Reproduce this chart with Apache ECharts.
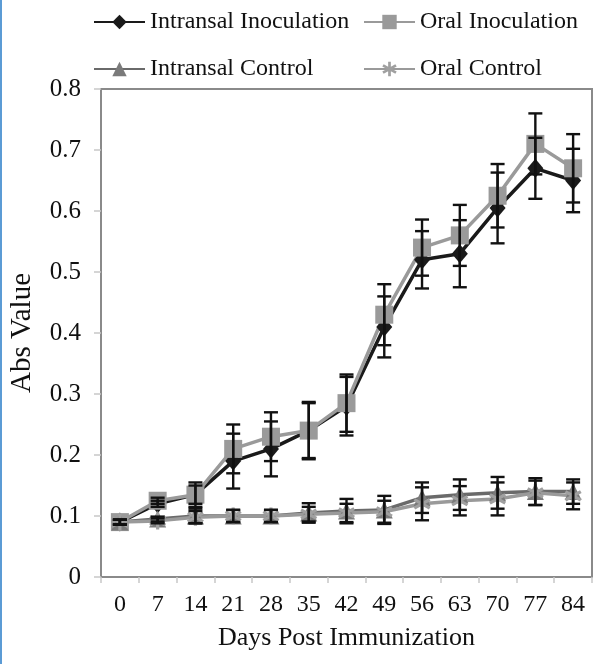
<!DOCTYPE html>
<html>
<head>
<meta charset="utf-8">
<script src="https://cdn.jsdelivr.net/npm/echarts@6/dist/echarts.min.js"></script>
<style>
html,body{margin:0;padding:0;background:#fff;}
#chart{width:595px;height:664px;}
</style>
</head>
<body>
<div id="chart"></div>
<script>
var days = ['0','7','14','21','28','35','42','49','56','63','70','77','84'];
var intransalInoc = [0.09,0.12,0.135,0.19,0.21,0.24,0.28,0.41,0.52,0.53,0.605,0.67,0.65];
var intransalInocErr = [0.004,0.005,0.015,0.045,0.045,0.047,0.048,0.05,0.047,0.055,0.058,0.05,0.052];
var oralInoc = [0.09,0.125,0.135,0.21,0.23,0.24,0.285,0.43,0.54,0.56,0.625,0.71,0.67];
var oralInocErr = [0.004,0.005,0.02,0.04,0.04,0.045,0.047,0.05,0.046,0.05,0.052,0.05,0.056];
var intransalCtrl = [0.09,0.095,0.10,0.10,0.10,0.105,0.108,0.11,0.13,0.135,0.138,0.14,0.14];
var intransalCtrlErr = [0.004,0.004,0.012,0.01,0.01,0.016,0.02,0.023,0.025,0.025,0.026,0.022,0.02];
var oralCtrl = [0.09,0.092,0.098,0.10,0.10,0.103,0.105,0.107,0.12,0.125,0.128,0.138,0.133];
var oralCtrlErr = [0.004,0.004,0.01,0.01,0.01,0.012,0.015,0.018,0.027,0.024,0.027,0.02,0.022];
var yTicks = [0,0.1,0.2,0.3,0.4,0.5,0.6,0.7,0.8];

var FONT = 'Liberation Serif';
var asterisk = 'path://M8.2,0L11.8,0L11.8,20L8.2,20Z M2.24,3.44L19.56,13.44L17.76,16.56L0.44,6.56Z M17.76,3.44L19.56,6.56L2.24,16.56L0.44,13.44Z';

function errData(vals, errs){
  return vals.map(function(v,i){ return [i, v - errs[i], v + errs[i]]; });
}
function errSeries(vals, errs){
  return {
    type: 'custom',
    z: 5,
    silent: true,
    data: errData(vals, errs),
    encode: {x: 0, y: [1, 2]},
    renderItem: function(params, api){
      var x = api.value(0);
      var lo = api.coord([x, api.value(1)]);
      var hi = api.coord([x, api.value(2)]);
      var hw = 7;
      var st = {stroke: '#111', lineWidth: 2.4};
      return {
        type: 'group',
        children: [
          {type: 'line', shape: {x1: lo[0], y1: lo[1], x2: hi[0], y2: hi[1]}, style: st},
          {type: 'line', shape: {x1: hi[0]-hw, y1: hi[1], x2: hi[0]+hw, y2: hi[1]}, style: st},
          {type: 'line', shape: {x1: lo[0]-hw, y1: lo[1], x2: lo[0]+hw, y2: lo[1]}, style: st}
        ]
      };
    }
  };
}
function legendAt(name, left, top){
  return {
    data: [name], left: left, top: top, padding: 0,
    itemWidth: 51, itemHeight: 18, itemGap: 0,
    selectedMode: false,
    textStyle: {fontFamily: FONT, fontSize: 24, color: '#111', lineHeight: 28}
  };
}

var chart = echarts.init(document.getElementById('chart'), null, {renderer: 'canvas'});
chart.setOption({
  backgroundColor: '#ffffff',
  animation: false,
  graphic: [{type: 'rect', left: 0, top: 0, shape: {width: 2, height: 664}, style: {fill: '#5b9bd5'}}],
  legend: [
    legendAt('Intransal Inoculation', 93, 8),
    legendAt('Oral Inoculation', 363, 8),
    legendAt('Intransal Control', 93, 55),
    legendAt('Oral Control', 363, 55)
  ],
  grid: {left: 97, right: 3, top: 89, bottom: 87, show: true, borderColor: '#8a8a8a', borderWidth: 2, backgroundColor: '#fff'},
  xAxis: {
    type: 'category',
    data: days,
    boundaryGap: true,
    name: 'Days Post Immunization',
    nameLocation: 'middle',
    nameGap: 48,
    nameTextStyle: {fontFamily: FONT, fontSize: 26, color: '#111'},
    axisLine: {show: true, lineStyle: {color: '#8a8a8a', width: 2}},
    axisTick: {show: true, length: 6, lineStyle: {color: '#c8c8c8', width: 1.5}},
    axisLabel: {fontFamily: FONT, fontSize: 24, color: '#111', margin: 16}
  },
  yAxis: {
    type: 'value',
    min: 0, max: 0.8, interval: 0.1,
    name: 'Abs Value',
    nameLocation: 'middle',
    nameGap: 64,
    nameTextStyle: {fontFamily: FONT, fontSize: 29, color: '#111'},
    splitLine: {show: false},
    axisLine: {show: true, lineStyle: {color: '#8a8a8a', width: 2}},
    axisTick: {show: true, length: 7, lineStyle: {color: '#c8c8c8', width: 1.5}},
    axisLabel: {
      fontFamily: FONT, fontSize: 25, color: '#111', margin: 20,
      formatter: function(v){
        var t = yTicks.filter(function(k){ return Math.abs(k - v) < 1e-9; });
        if (!t.length) return '';
        return v === 0 ? '0' : v.toFixed(1);
      }
    }
  },
  series: [
    {
      name: 'Intransal Inoculation', type: 'line', data: intransalInoc, z: 2,
      symbol: 'diamond', symbolSize: [16, 19],
      lineStyle: {color: '#1a1a1a', width: 3.5},
      itemStyle: {color: '#1a1a1a'}
    },
    {
      name: 'Oral Inoculation', type: 'line', data: oralInoc, z: 2,
      symbol: 'rect', symbolSize: 18,
      lineStyle: {color: '#9a9a9a', width: 3.5},
      itemStyle: {color: '#9a9a9a'}
    },
    {
      name: 'Intransal Control', type: 'line', data: intransalCtrl, z: 3,
      symbol: 'triangle', symbolSize: [17, 17],
      lineStyle: {color: '#6a6a6a', width: 3.5},
      itemStyle: {color: '#7a7a7a'}
    },
    {
      name: 'Oral Control', type: 'line', data: oralCtrl, z: 3,
      symbol: asterisk, symbolSize: 17,
      lineStyle: {color: '#9a9a9a', width: 3.5},
      itemStyle: {color: '#a0a0a0'}
    },
    errSeries(intransalInoc, intransalInocErr),
    errSeries(oralInoc, oralInocErr),
    errSeries(intransalCtrl, intransalCtrlErr),
    errSeries(oralCtrl, oralCtrlErr)
  ]
});
</script>
</body>
</html>
